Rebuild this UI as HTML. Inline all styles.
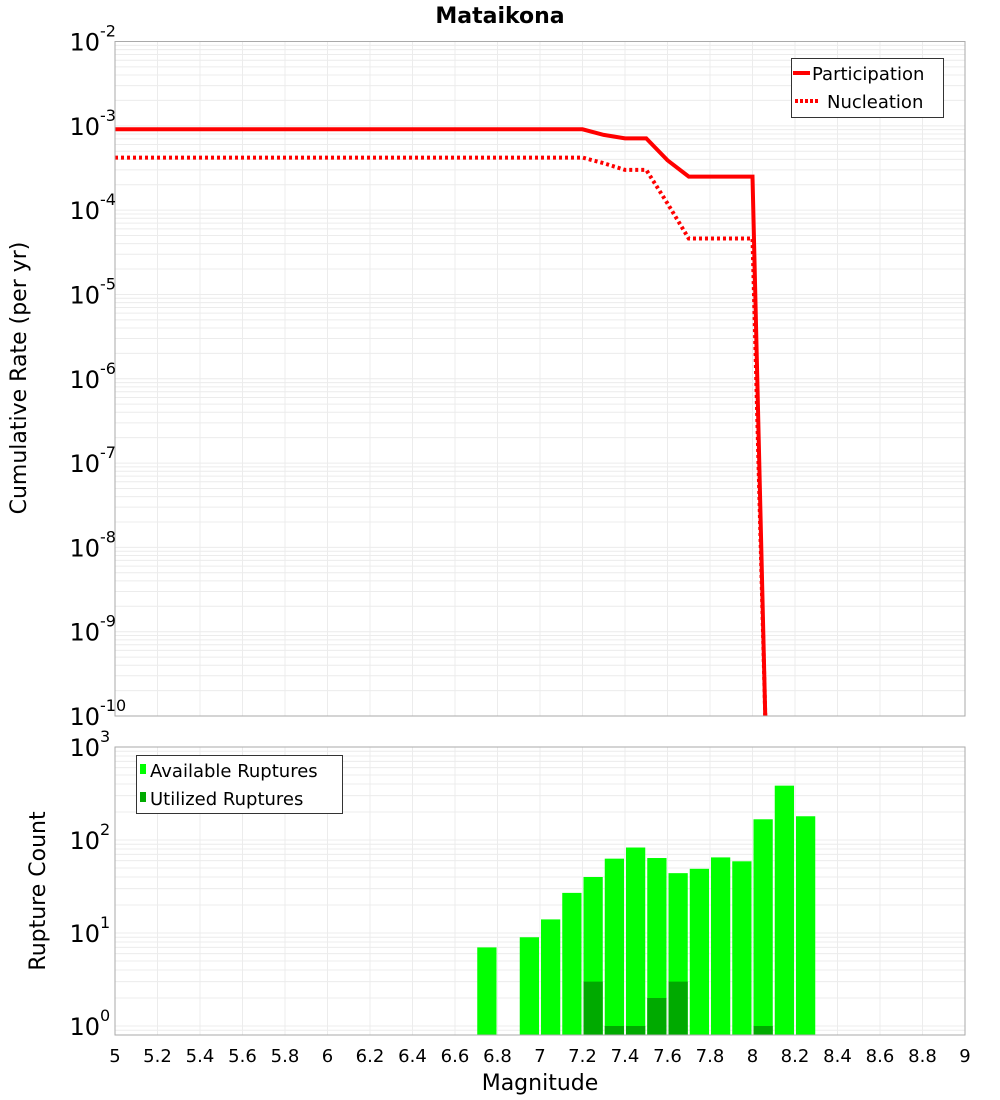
<!DOCTYPE html>
<html><head><meta charset="utf-8"><style>
body{margin:0;background:#fff;}
svg{display:block;font-family:"DejaVu Sans","Liberation Sans",sans-serif;}
</style></head><body>
<svg id="chart" width="1000" height="1100"></svg>
<script>
const xTicks=[5,5.2,5.4,5.6,5.8,6,6.2,6.4,6.6,6.8,7,7.2,7.4,7.6,7.8,8,8.2,8.4,8.6,8.8,9];
const partMags=[5,7.2,7.3,7.4,7.5,7.6,7.7,8.0,8.06];
const partRates=[9.1e-4,9.1e-4,7.8e-4,7.1e-4,7.1e-4,3.9e-4,2.5e-4,2.5e-4,1e-10];
const nuclMags=[5,7.2,7.3,7.4,7.5,7.6,7.7,8.0,8.06];
const nuclRates=[4.2e-4,4.2e-4,3.6e-4,3.0e-4,3.0e-4,1.2e-4,4.6e-5,4.6e-5,1e-10];
const binMags=[6.75,6.95,7.05,7.15,7.25,7.35,7.45,7.55,7.65,7.75,7.85,7.95,8.05,8.15,8.25];
const availCounts=[7,9,14,27,40,63,83,64,44,49,65,59,167,384,180];
const usedCounts=[0,0,0,0,3,1,1,2,3,0,0,0,1,0,0];
const topDecades=[-10,-9,-8,-7,-6,-5,-4,-3,-2];
const botDecades=[0,1,2,3];

const NS="http://www.w3.org/2000/svg";
const svg=document.getElementById('chart');
function mk(tag,attrs,parent){const e=document.createElementNS(NS,tag);for(const k in attrs)e.setAttribute(k,attrs[k]);(parent||svg).appendChild(e);return e;}
const L=115,R=965;
const T1=41.5,B1=716,T2=747,B2=1035;
const xS=m=>L+(m-5)/(9-5)*(R-L);
const y1=v=>T1+(-2-Math.log10(v))/8*(B1-T1);
const y2=v=>B2-(Math.log10(v)-Math.log10(0.8))/(3-Math.log10(0.8))*(B2-T2);

mk('rect',{x:0,y:0,width:1000,height:1100,fill:'#fff'});
function grid(T,B,yf,dmin,dmax,g){
  for(const t of xTicks){mk('line',{x1:xS(t),x2:xS(t),y1:T,y2:B,stroke:'#ececec','stroke-width':1},g);}
  for(let d=dmin;d<=dmax;d++){for(let k=1;k<10;k++){const v=k*Math.pow(10,d);const y=yf(v);if(y<T-0.5||y>B+0.5)continue;mk('line',{x1:L,x2:R,y1:y,y2:y,stroke:'#ececec','stroke-width':1},g);}}
}
const g1=mk('g',{});
grid(T1,B1,y1,-10,-3,g1);
const g2=mk('g',{});
grid(T2,B2,y2,-1,2,g2);

const title=mk('text',{x:500,y:23,'text-anchor':'middle','font-size':22,'font-weight':'bold'});title.textContent='Mataikona';


const clip=mk('clipPath',{id:'c1'});mk('rect',{x:L,y:T1,width:R-L,height:B1-T1},clip);
function path(ms,vs){return ms.map((m,i)=>(i?'L':'M')+xS(m).toFixed(2)+','+y1(Math.max(vs[i],1e-11)).toFixed(2)).join(' ');}
const nl=mk('path',{d:path(nuclMags,nuclRates),fill:'none',stroke:'#ff0000','stroke-width':4,'stroke-dasharray':'3,3','clip-path':'url(#c1)'});

const pl=mk('path',{d:path(partMags,partRates),fill:'none',stroke:'#ff0000','stroke-width':4,'clip-path':'url(#c1)'});


const bw=(R-L)/40;
binMags.forEach((m,i)=>{
  if(availCounts[i]>0){const y=y2(availCounts[i]);const b=mk('rect',{x:xS(m)-bw/2+1,y:y,width:bw-2,height:B2-y,fill:'#00ff00'});
  }
  if(usedCounts[i]>0){const y=y2(usedCounts[i]);const b=mk('rect',{x:xS(m)-bw/2+1,y:y,width:bw-2,height:B2-y,fill:'#00aa00'});
  }
});

const f1=mk('rect',{x:L,y:T1,width:R-L,height:B1-T1,fill:'none',stroke:'#aaa','stroke-width':1});

const f2=mk('rect',{x:L,y:T2,width:R-L,height:B2-T2,fill:'none',stroke:'#aaa','stroke-width':1});


function ylab(y,d,name){
  const t=mk('text',{x:100,y:y+9,'text-anchor':'end','font-size':24});t.textContent='10';
  
  const s=mk('text',{x:100,y:y-5,'text-anchor':'start','font-size':16});s.textContent=String(d);
  
}
topDecades.forEach(d=>ylab(y1(Math.pow(10,d)),d,'top-y-tick'));
botDecades.forEach(d=>ylab(y2(Math.pow(10,d)),d,'bottom-y-tick'));

xTicks.forEach(t=>{const e=mk('text',{x:xS(t),y:1062,'text-anchor':'middle','font-size':18});e.textContent=String(t);
  });

const xt=mk('text',{x:540,y:1090,'text-anchor':'middle','font-size':22});xt.textContent='Magnitude';

const yt1=mk('text',{x:0,y:0,'text-anchor':'middle','font-size':22,transform:'translate(26,378) rotate(-90)'});yt1.textContent='Cumulative Rate (per yr)';

const yt2=mk('text',{x:0,y:0,'text-anchor':'middle','font-size':22,transform:'translate(45,891) rotate(-90)'});yt2.textContent='Rupture Count';


const lg1=mk('g',{});
mk('rect',{x:791.5,y:58.5,width:152,height:59,fill:'#fff',stroke:'#333','stroke-width':1},lg1);
mk('line',{x1:793,x2:810,y1:73,y2:73,stroke:'#f00','stroke-width':4},lg1);
let t=mk('text',{x:812,y:80,'font-size':18},lg1);t.textContent='Participation';

mk('line',{x1:795,x2:818,y1:101,y2:101,stroke:'#f00','stroke-width':4,'stroke-dasharray':'3,2'},lg1);
t=mk('text',{x:827,y:108,'font-size':18},lg1);t.textContent='Nucleation';


const lg2=mk('g',{});
mk('rect',{x:136.5,y:755.5,width:206,height:58,fill:'#fff',stroke:'#333','stroke-width':1},lg2);
mk('rect',{x:140,y:764,width:6,height:10,fill:'#00ff00'},lg2);
t=mk('text',{x:150,y:777,'font-size':18},lg2);t.textContent='Available Ruptures';

mk('rect',{x:140,y:792,width:6,height:10,fill:'#00aa00'},lg2);
t=mk('text',{x:150,y:805,'font-size':18},lg2);t.textContent='Utilized Ruptures';

</script>
</body></html>
